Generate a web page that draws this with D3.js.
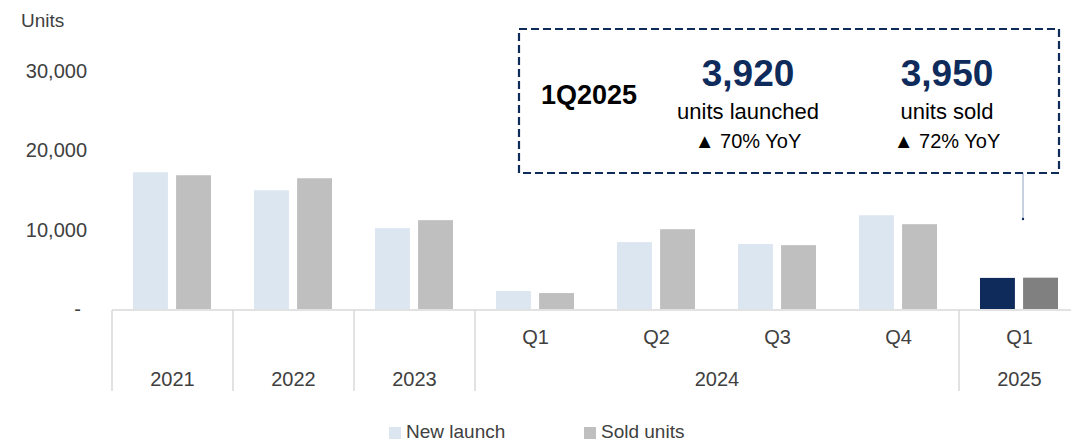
<!DOCTYPE html>
<html>
<head>
<meta charset="utf-8">
<script src="https://cdn.jsdelivr.net/npm/d3@7"></script>
<style>
  body { margin: 0; background: #fff; }
  svg text { font-family: "Liberation Sans", Arial, sans-serif; }
</style>
</head>
<body>
<svg width="1071" height="442"></svg>
<script>
let svg = d3.select("svg");

// data
let periods = ["2021", "2022", "2023", "2024Q1", "2024Q2", "2024Q3", "2024Q4", "2025Q1"];
let quarterLabels = ["", "", "", "Q1", "Q2", "Q3", "Q4", "Q1"];
let yearGroups = [
  { label: "2021", from: 0, to: 0 },
  { label: "2022", from: 1, to: 1 },
  { label: "2023", from: 2, to: 2 },
  { label: "2024", from: 3, to: 6 },
  { label: "2025", from: 7, to: 7 }
];
let newLaunch = [17230, 14970, 10190, 2260, 8430, 8180, 11820, 3920];
let soldUnits = [16860, 16480, 11200, 2010, 10060, 8050, 10690, 3950];
let yTicks = [0, 10000, 20000, 30000];
let seriesNames = ["New launch", "Sold units"];

let x = d3.scaleBand().domain(periods).range([112, 1080]).paddingInner(0).paddingOuter(0);
let y = d3.scaleLinear().domain([0, 30000]).range([309, 71]);
let sub = d3.scaleBand().domain(seriesNames).range([21, 99]).paddingInner(0.19);

let fillNew = (d, i) => i === 7 ? "#0e2b5c" : "#dce6f1";
let fillSold = (d, i) => i === 7 ? "#808080" : "#bfbfbf";
let textGrey = "#404040";

// y axis labels
svg.append("text").attr("x", 21).attr("y", 27).attr("font-size", 19).attr("fill", textGrey).text("Units");

let yAxis = d3.axisLeft(y).tickValues(yTicks).tickSize(0).tickPadding(0)
  .tickFormat((d) => d === 0 ? "-" : d3.format(",")(d));
let ya = svg.append("g").attr("transform", "translate(87,0)").call(yAxis);
ya.select(".domain").remove();
ya.selectAll("text").attr("font-size", 20).attr("fill", textGrey)
  .attr("font-family", "Liberation Sans, Arial, sans-serif");
ya.selectAll(".tick").filter((d) => d === 0).select("text").attr("dx", -6);

// bars
let g = svg.append("g");
g.selectAll(".new").data(newLaunch).enter().append("rect")
  .attr("x", (d, i) => x(periods[i]) + sub("New launch"))
  .attr("width", sub.bandwidth())
  .attr("y", (d) => y(d))
  .attr("height", (d) => y(0) - y(d))
  .attr("fill", fillNew);
g.selectAll(".sold").data(soldUnits).enter().append("rect")
  .attr("x", (d, i) => x(periods[i]) + sub("Sold units"))
  .attr("width", sub.bandwidth())
  .attr("y", (d) => y(d))
  .attr("height", (d) => y(0) - y(d))
  .attr("fill", fillSold);

// category axis
let axisColor = "#d9d9d9";
svg.append("line").attr("x1", 112).attr("x2", 1071).attr("y1", y(0) + 1).attr("y2", y(0) + 1)
  .attr("stroke", axisColor).attr("stroke-width", 1.5);

let dividers = yearGroups.map((d) => x(periods[d.from])).concat([x.range()[1]]);
svg.selectAll(".div").data(dividers).enter().append("line")
  .attr("x1", (d) => d).attr("x2", (d) => d)
  .attr("y1", y(0) + 1).attr("y2", 391)
  .attr("stroke", axisColor).attr("stroke-width", 1.5);

svg.selectAll(".qlab").data(quarterLabels).enter().append("text")
  .attr("x", (d, i) => x(periods[i]) + x.bandwidth() / 2)
  .attr("y", 344)
  .attr("text-anchor", "middle")
  .attr("font-size", 20).attr("fill", textGrey)
  .text((d) => d);

svg.selectAll(".ylab").data(yearGroups).enter().append("text")
  .attr("x", (d) => (x(periods[d.from]) + x(periods[d.to]) + x.bandwidth()) / 2)
  .attr("y", 386)
  .attr("text-anchor", "middle")
  .attr("font-size", 20).attr("fill", textGrey)
  .text((d) => d.label);

// legend
let legend = svg.append("g").attr("transform", "translate(389,425)");
let legendColors = ["#dce6f1", "#bfbfbf"];
let legendX = [0, 195];
seriesNames.forEach((name, i) => {
  legend.append("rect").attr("x", legendX[i]).attr("y", 2).attr("width", 12).attr("height", 12)
    .attr("fill", legendColors[i]);
  legend.append("text").attr("x", legendX[i] + 17).attr("y", 13)
    .attr("font-size", 19).attr("fill", textGrey).text(name);
});

// callout
let navy = "#0e2b5c";
svg.append("line").attr("x1", 1023).attr("x2", 1023).attr("y1", 173).attr("y2", 218)
  .attr("stroke", "#8ea2c2").attr("stroke-width", 1);
svg.append("circle").attr("cx", 1023).attr("cy", 219).attr("r", 1.2).attr("fill", navy);

svg.append("rect").attr("x", 519).attr("y", 29).attr("width", 540).attr("height", 144)
  .attr("fill", "white").attr("stroke", navy).attr("stroke-width", 2.2)
  .attr("stroke-dasharray", "8,4");

svg.append("text").attr("x", 541).attr("y", 104).attr("font-size", 27).attr("font-weight", "bold")
  .attr("fill", "#000").text("1Q2025");

let callouts = [
  { cx: 748, big: d3.format(",")(newLaunch[7]), label: "units launched", yoy: "\u25B2 70% YoY" },
  { cx: 947, big: d3.format(",")(soldUnits[7]), label: "units sold", yoy: "\u25B2 72% YoY" }
];
callouts.forEach((c) => {
  svg.append("text").attr("x", c.cx).attr("y", 86).attr("text-anchor", "middle")
    .attr("font-size", 37).attr("font-weight", "bold").attr("fill", navy).text(c.big);
  svg.append("text").attr("x", c.cx).attr("y", 119).attr("text-anchor", "middle")
    .attr("font-size", 22).attr("fill", "#000").text(c.label);
  svg.append("text").attr("x", c.cx).attr("y", 148).attr("text-anchor", "middle")
    .attr("font-size", 20).attr("fill", "#000").text(c.yoy);
});
</script>
</body>
</html>
